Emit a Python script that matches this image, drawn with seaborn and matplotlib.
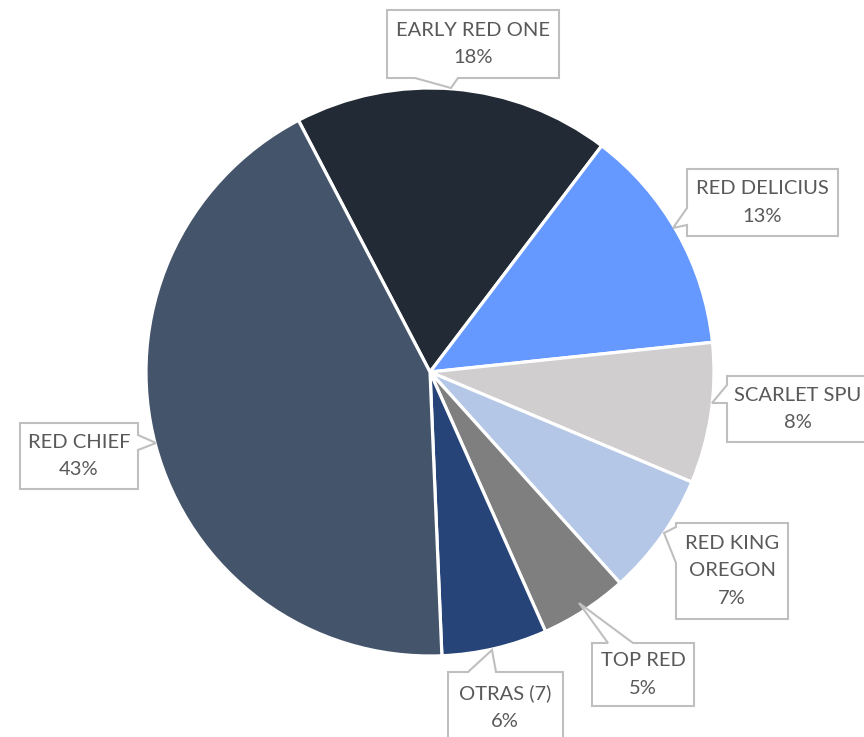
import seaborn as sns
import matplotlib.pyplot as plt
from matplotlib.patches import Polygon

# data
labels = ['EARLY RED ONE', 'RED DELICIUS', 'SCARLET SPU', 'RED KING\nOREGON',
          'TOP RED', 'OTRAS (7)', 'RED CHIEF']
shares = [18, 13, 8, 7, 5, 6, 43]
colors = ['#222A35', '#6699FF', '#D0CECE', '#B4C7E7', '#7F7F7F', '#264478', '#44546A']

W, H = 864, 737

# callout boxes in pixel coords (left, top, right, bottom), pointer side, pointer base, tip
callouts = [
    ((387, 10, 559, 78), 'bottom', (415, 458), (451, 88)),
    ((687, 169, 838, 236), 'left', (208, 225), (673, 228)),
    ((727, 376, 890, 442), 'left', (385, 403), (712, 403)),
    ((676, 523, 788, 619), 'left', (527, 563), (664, 533)),
    ((592, 643, 694, 706), 'top', (608, 633), (579, 603)),
    ((448, 672, 563, 742), 'top', (468, 496), (492, 650)),
    ((20, 423, 138, 489), 'right', (435, 450), (156, 443)),
]
text_x = [473, 762, 798, 732, 643, 505, 79]


def callout_poly(box, side, base, tip):
    l, t, r, b = box
    pts = [(l, t)]
    if side == 'top':
        pts += [(base[0], t), tip, (base[1], t)]
    pts.append((r, t))
    if side == 'right':
        pts += [(r, base[0]), tip, (r, base[1])]
    pts.append((r, b))
    if side == 'bottom':
        pts += [(base[1], b), tip, (base[0], b)]
    pts.append((l, b))
    if side == 'left':
        pts += [(l, base[1]), tip, (l, base[0])]
    return [(x, H - y) for x, y in pts]


sns.set_theme(style='white')
plt.rcParams['font.family'] = ['Lato', 'DejaVu Sans']

fig = plt.figure(figsize=(W / 100, H / 100), dpi=100)
ax = fig.add_axes([0, 0, 1, 1])

ax.pie(shares, colors=colors, startangle=117.6, counterclock=False,
       center=(430, H - 372), radius=284, frame=True,
       wedgeprops=dict(edgecolor='white', linewidth=2.3))
ax.set_xlim(0, W)
ax.set_ylim(0, H)
ax.set_aspect('equal')
ax.axis('off')

for lab, val, (box, side, base, tip), tx in zip(labels, shares, callouts, text_x):
    ax.add_patch(Polygon(callout_poly(box, side, base, tip), closed=True,
                         facecolor='white', edgecolor='#BFBFBF', linewidth=1.5, zorder=3))
    cy = H - (box[1] + box[3]) / 2
    ax.text(tx, cy, f'{lab}\n{val}%', ha='center', va='center', fontsize=14.5,
            color='#595959', linespacing=1.75, zorder=4)

fig.savefig('out.png', dpi=100)
